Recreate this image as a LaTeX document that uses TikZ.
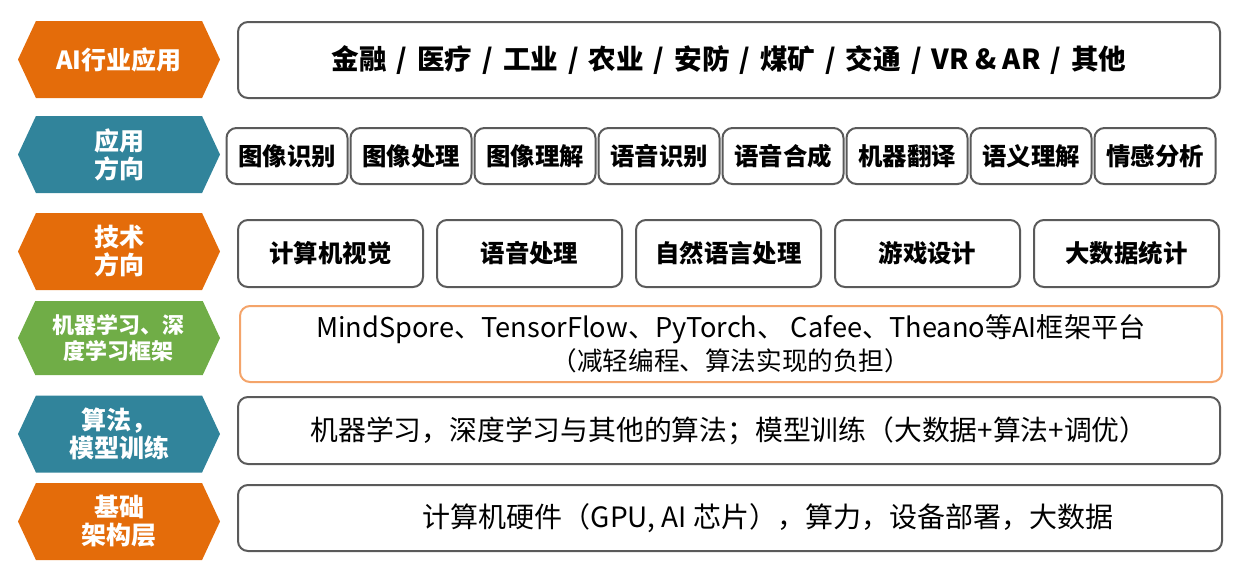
\documentclass[tikz,border=0pt]{standalone}
\usepackage{fontspec}
\setmainfont{Noto Sans CJK SC}
\usepackage{tikz}
\usetikzlibrary{shapes.symbols, positioning}
\definecolor{lyOrange}{HTML}{E46C0A}
\definecolor{lyTeal}{HTML}{31849B}
\definecolor{lyGreen}{HTML}{70AD47}
\definecolor{boxGray}{HTML}{5A5A5A}
\definecolor{fwOrange}{HTML}{F4A46A}
\newcommand{\slsep}{\hspace{0.36em}/\hspace{0.36em}}

\tikzset{
  hexlbl/.style={signal, signal to=west and east, signal pointer angle=130,
    minimum width=101pt, minimum height=38.5pt, inner sep=0pt, text=white,
    font=\bfseries\fontsize{12.5}{14}\selectfont, align=center},
  itembox/.style={draw=boxGray, line width=1pt, rounded corners=5pt, fill=white,
    inner sep=0pt, align=center},
}

\begin{document}
\begin{tikzpicture}[x=0.5pt, y=-0.5pt]
    \useasboundingbox (0,0) rectangle (1239,564);

    % Left labels
    \node[hexlbl, fill=lyOrange] (indlbl) at (119,59.5) {AI行业应用};
    \node[hexlbl, fill=lyTeal] (applbl) at (119,154.5) {应用\\方向};
    \node[hexlbl, fill=lyOrange] (techlbl) at (119,251.5) {技术\\方向};
    \node[hexlbl, fill=lyGreen, minimum height=37pt,
        font=\bfseries\fontsize{11}{13}\selectfont] (fwlbl) at (119,338) {机器学习、深\\度学习框架};
    \node[hexlbl, fill=lyTeal] (alglbl) at (119,434) {算法，\\模型训练};
    \node[hexlbl, fill=lyOrange] (baselbl) at (119,521.5) {基础\\架构层};

    % Industry row
    \node[itembox, minimum width=491pt, minimum height=38pt,
        font=\bfseries\fontsize{13.8}{15}\selectfont] (ind) at (729,60)
        {金融\slsep 医疗\slsep 工业\slsep 农业\slsep 安防\slsep 煤矿\slsep 交通\slsep VR \& AR\slsep 其他};

    % Application directions
    \foreach \t [count=\i from 0] in {图像识别, 图像处理, 图像理解, 语音识别,
        语音合成, 机器翻译, 语义理解, 情感分析} {
        \node[itembox, minimum width=60.5pt, minimum height=28pt,
            font=\bfseries\fontsize{12.2}{14}\selectfont] (app\i) at (287+124*\i,156) {\t};
    }

    % Technical directions
    \foreach \t [count=\i from 0] in {计算机视觉, 语音处理, 自然语言处理, 游戏设计, 大数据统计} {
        \node[itembox, minimum width=92.5pt, minimum height=33.5pt,
            font=\bfseries\fontsize{12.2}{14}\selectfont] (tech\i) at (330.5+199*\i,253.5) {\t};
    }

    % Frameworks
    \node[itembox, draw=fwOrange, minimum width=491pt, minimum height=38pt] (fw) at (731,344)
        {{\fontsize{13.6}{17}\selectfont MindSpore、TensorFlow、PyTorch、 Cafee、Theano等AI框架平台}\\[1.5pt]
         {\fontsize{12.8}{16}\selectfont （减轻编程、算法实现的负担）}};

    % Algorithms
    \node[itembox, minimum width=491pt, minimum height=33.5pt,
        font=\fontsize{13.9}{15}\selectfont] (alg) at (729,430.5)
        {机器学习，深度学习与其他的算法；模型训练（大数据+算法+调优）};

    % Infrastructure
    \node[itembox, minimum width=492pt, minimum height=33pt] (base) at (730,518) {};
    \node[font=\fontsize{14}{15}\selectfont] (basetxt) at (768,518)
        {计算机硬件（GPU, AI 芯片），算力，设备部署，大数据};
\end{tikzpicture}
\end{document}
